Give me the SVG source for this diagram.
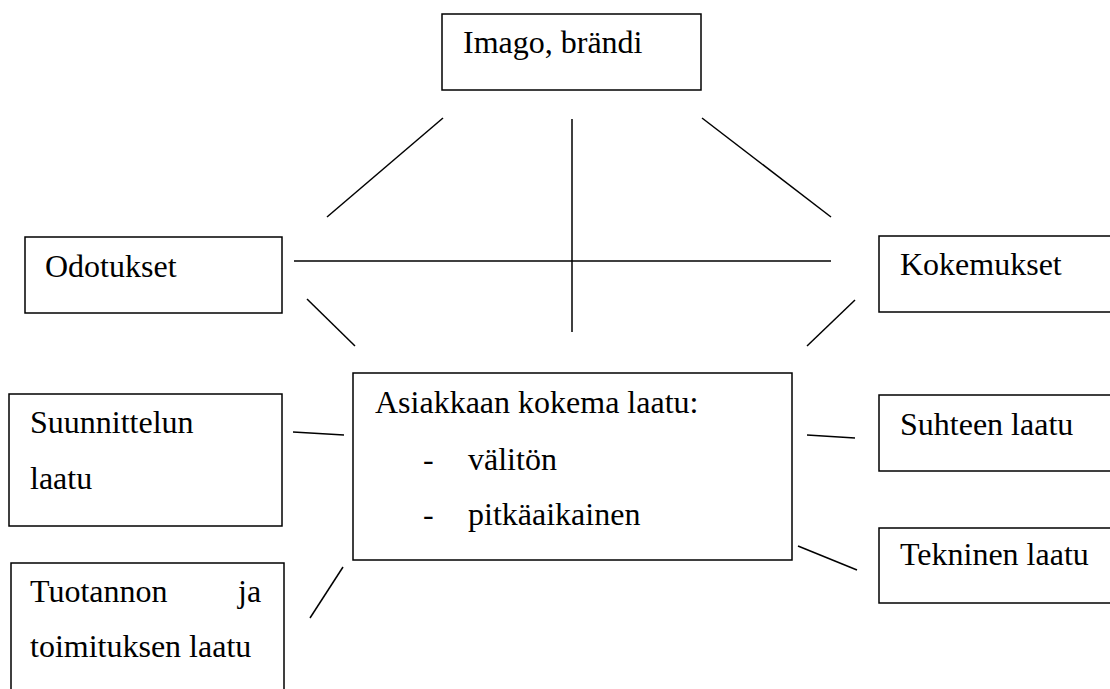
<svg xmlns="http://www.w3.org/2000/svg" width="1110" height="689" viewBox="0 0 1110 689">
<style>
.box{fill:#fff;stroke:#000;stroke-width:1.5}
.t{font-family:'Liberation Serif',serif;font-size:32px;fill:#000}
.c line{stroke:#000;stroke-width:1.5}
</style>
<rect width="1110" height="689" fill="#fff"/>
<g id="imago"><rect class="box" x="442" y="14" width="259" height="76"/><text class="t" x="463" y="53">Imago, brändi</text></g>
<g id="odotukset"><rect class="box" x="25" y="237" width="257" height="76"/><text class="t" x="45" y="277">Odotukset</text></g>
<g id="kokemukset"><rect class="box" x="879" y="236" width="240" height="76"/><text class="t" x="900" y="275">Kokemukset</text></g>
<g id="asiakas"><rect class="box" x="353" y="373" width="439" height="187"/>
<text class="t" x="375" y="413">Asiakkaan kokema laatu:</text>
<text class="t" x="423" y="470">-</text><text class="t" x="468" y="470">välitön</text>
<text class="t" x="423" y="525">-</text><text class="t" x="468" y="525">pitkäaikainen</text></g>
<g id="suunnittelu"><rect class="box" x="9" y="394" width="273" height="132"/><text class="t" x="30" y="433">Suunnittelun</text><text class="t" x="30" y="489">laatu</text></g>
<g id="tuotanto"><rect class="box" x="11" y="563" width="273" height="140"/><text class="t" x="30" y="602">Tuotannon</text><text class="t" x="238" y="602">ja</text><text class="t" x="30" y="657">toimituksen laatu</text></g>
<g id="suhde"><rect class="box" x="879" y="395" width="240" height="76"/><text class="t" x="900" y="435">Suhteen laatu</text></g>
<g id="tekninen"><rect class="box" x="879" y="528" width="240" height="75"/><text class="t" x="900" y="565">Tekninen laatu</text></g>
<g id="connectors" class="c">
<line x1="443" y1="118" x2="327" y2="217"/>
<line x1="572" y1="119" x2="572" y2="332"/>
<line x1="702" y1="118" x2="831" y2="217"/>
<line x1="294" y1="261" x2="831" y2="261"/>
<line x1="307" y1="299" x2="355" y2="346"/>
<line x1="855" y1="300" x2="807" y2="346"/>
<line x1="293" y1="432" x2="344" y2="435"/>
<line x1="343" y1="567" x2="310" y2="618"/>
<line x1="807" y1="435" x2="855" y2="438"/>
<line x1="798" y1="546" x2="857" y2="570"/>
</g>
</svg>
